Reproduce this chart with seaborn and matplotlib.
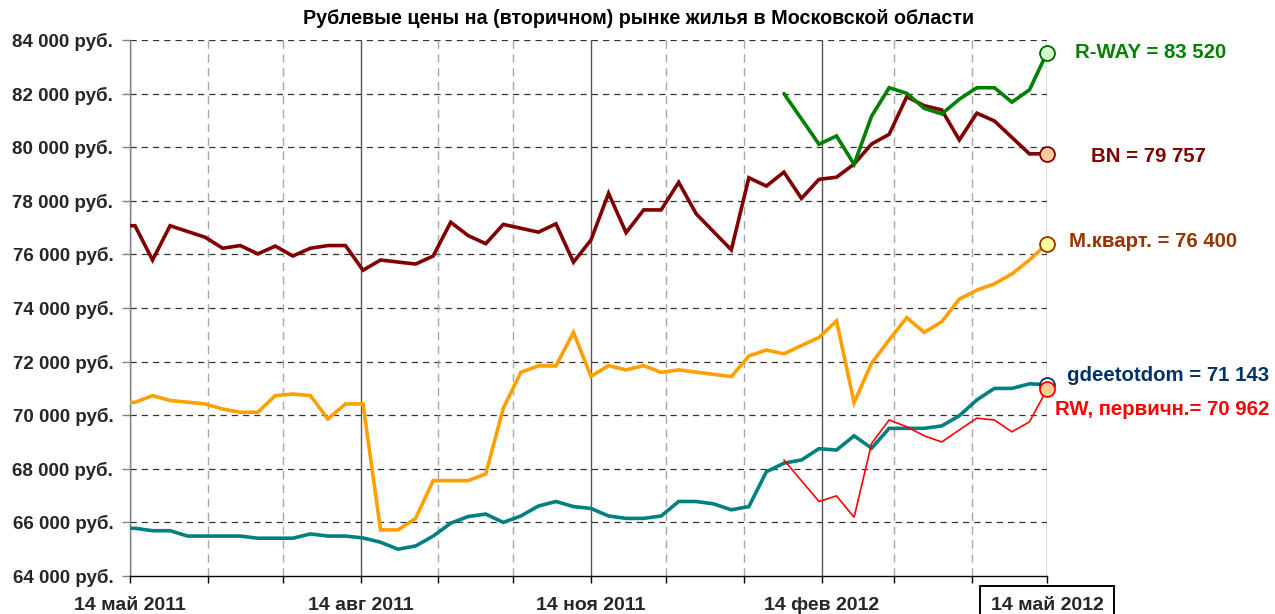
import matplotlib
matplotlib.use("Agg")
import matplotlib.pyplot as plt
import matplotlib.dates as mdates
import matplotlib.ticker as mticker
import matplotlib.transforms as mtransforms
import seaborn as sns
import pandas as pd
import numpy as np

# ---------------- data ----------------
title = "Рублевые цены на (вторичном) рынке жилья в Московской области"

# observation dates: 14 May 2011, then weekly (Mondays) 16 May 2011 ... 14 May 2012
first_date = "2011-05-14"
weekly_start = "2011-05-16"
weekly_end = "2012-05-14"

N = None
bn_values = [77070, 77070, 75790, 77070, N, 76640, 76230, 76330, 76020, 76310,
             75940, 76230, 76330, 76330, 75410, 75790, N, 75640, 75940, 77200,
             76700, 76400, 77120, N, 76830, 77140, 75710, 76540, 78280, 76810,
             77660, 77660, 78690, 77510, N, 76170, 78860, 78550, 79070, 78090,
             78800, 78880, 79370, 80120, 80480, 81880, 81550, 81390, 80270, 81270,
             80980, N, 79750, 79757]
mkvart_values = [70480, 70480, 70730, 70550, N, 70420, 70230, 70110, 70110, 70730,
                 70790, 70730, 69860, 70420, 70420, 65720, 65720, 66150, 67560, 67560,
                 67560, 67810, 70260, 71600, 71840, 71840, 73090, 71450, 71850, 71690,
                 71850, 71600, 71690, N, N, 71440, 72210, 72430, 72290, 72600,
                 72900, 73520, 70470, 71940, 72810, 73640, 73090, 73490, 74330, 74670,
                 74900, 75270, 75790, 76400]
gdeetotdom_values = [65780, 65780, 65690, 65690, 65490, 65490, 65490, 65490, 65410, 65410,
                     65410, 65570, 65490, 65490, 65420, 65260, 65000, 65120, 65490, 65970,
                     66220, 66310, 66000, 66240, 66610, 66780, 66590, 66520, 66240, 66150,
                     66150, 66240, 66780, 66780, 66690, 66470, 66590, 67890, 68210, 68330,
                     68750, 68700, 69230, 68770, 69510, 69510, 69510, 69600, 69980, 70570,
                     71000, 71000, 71170, 71143]
rw_primary_values = [N] * 38 + [68330, N, 66780, 66990, 66190, 68950, 69820, 69570, 69230, 69000,
                                69450, 69890, 69820, 69380, 69750, 70962]
rway_values = [N] * 38 + [82000, N, 80110, 80420, 79360, 81160, 82220, 82010, 81450, 81240,
                          81790, 82220, 82220, 81680, 82140, 83520]

series_names = ["BN", "М.кварт.", "gdeetotdom", "RW, первичн.", "R-WAY"]
label_texts = ["BN = 79 757", "М.кварт. = 76 400", "gdeetotdom = 71 143",
               "RW, первичн.= 70 962", "R-WAY = 83 520"]

y_ticks = [64000, 66000, 68000, 70000, 72000, 74000, 76000, 78000, 80000, 82000, 84000]
x_major_dates = ["2011-05-14", "2011-08-14", "2011-11-14", "2012-02-14", "2012-05-14"]
x_major_labels = ["14 май 2011", "14 авг 2011", "14 ноя 2011", "14 фев 2012", "14 май 2012"]

# ---------------- styles ----------------
line_colors = ["#800000", "#FF9F00", "#008080", "#FF0000", "#008000"]
line_widths = [2.6, 2.6, 2.6, 1.2, 2.6]
marker_faces = ["#FFCC99", "#FFFF99", "#FFFFFF", "#FFCC99", "#CCFFCC"]
marker_edges = ["#800000", "#993300", "#003366", "#FF0000", "#006600"]
label_colors = ["#800000", "#993300", "#003366", "#FF0000", "#008000"]
label_x_frac = [1.048, 1.024, 1.0215, 1.0085, 1.0305]
label_y_val = [79640, 76480, 71480, 70200, 83520]

sns.set_style("white")
plt.rcParams["font.family"] = ["Liberation Sans", "DejaVu Sans"]
plt.rcParams["font.weight"] = "bold"

dates = pd.DatetimeIndex([pd.Timestamp(first_date)]).append(
    pd.date_range(weekly_start, weekly_end, freq="7D"))

all_values = [bn_values, mkvart_values, gdeetotdom_values, rw_primary_values, rway_values]

fig = plt.figure(figsize=(12.75, 6.14), dpi=100)
ax = fig.add_axes([130 / 1275, 38 / 614, 917 / 1275, 536 / 614])

for name, vals, col, lw in zip(series_names, all_values, line_colors, line_widths):
    df = pd.DataFrame({"date": dates, "value": [np.nan if v is None else v for v in vals]}).dropna()
    sns.lineplot(data=df, x="date", y="value", color=col, linewidth=lw, ax=ax,
                 zorder=3, solid_joinstyle="miter")

# end markers
for i in range(5):
    vals = all_values[i]
    sns.scatterplot(x=[dates[-1]], y=[vals[-1]], s=115, color=marker_faces[i],
                    edgecolor=marker_edges[i], linewidth=1.3, ax=ax, zorder=5 + (i == 3),
                    legend=False, clip_on=False)

# end labels
trans = mtransforms.blended_transform_factory(ax.transAxes, ax.transData)
for i in range(5):
    ax.text(label_x_frac[i], label_y_val[i], label_texts[i], transform=trans,
            color=label_colors[i], fontsize=14.7, fontweight="bold",
            ha="left", va="center", clip_on=False)

# axes limits
ax.set_xlim(pd.Timestamp(x_major_dates[0]), pd.Timestamp(x_major_dates[-1]))
ax.set_ylim(y_ticks[0], y_ticks[-1])
ax.set_xlabel("")
ax.set_ylabel("")

# y axis
ax.yaxis.set_major_locator(mticker.FixedLocator(y_ticks))
ax.yaxis.set_major_formatter(mticker.FuncFormatter(
    lambda v, p: f"{v:,.0f}".replace(",", " ") + " руб."))
ax.tick_params(axis="y", which="major", length=6, width=1, color="#808080",
               pad=6, labelsize=13.5, direction="out", left=True)
for lab in ax.get_yticklabels():
    lab.set_fontweight("bold")

# x axis
month_days = pd.date_range(x_major_dates[0], x_major_dates[-1], freq=pd.DateOffset(months=1))
major_nums = [mdates.date2num(pd.Timestamp(d)) for d in x_major_dates]
month_nums = [mdates.date2num(d) for d in month_days]
ax.xaxis.set_major_locator(mticker.FixedLocator(major_nums))
ax.xaxis.set_major_formatter(mticker.FixedFormatter(x_major_labels))
ax.xaxis.set_minor_locator(mticker.FixedLocator(month_nums))
ax.tick_params(axis="x", which="both", length=5, width=1, color="#000000",
               direction="out", bottom=True, pad=10, labelsize=14)
for lab in ax.get_xticklabels():
    lab.set_fontweight("bold")
last_lab = ax.get_xticklabels()[-1]
last_lab.set_bbox(dict(boxstyle="square,pad=0.55", fc="white", ec="black", lw=1.4))

# grids
ax.grid(False)
for v in y_ticks[1:]:
    ax.axhline(v, color="#333333", lw=0.9, ls=(0, (5, 4)), zorder=1)
for d in month_nums:
    if any(abs(d - m) < 1 for m in major_nums):
        ax.axvline(d, color="#555555", lw=1.0, ls="-", zorder=1)
    else:
        ax.axvline(d, color="#A8A8A8", lw=1.0, ls=(0, (6, 4)), zorder=1)

for s in ["top", "right"]:
    ax.spines[s].set_visible(False)
ax.spines["left"].set_color("#808080")
ax.spines["left"].set_linewidth(1.0)
ax.spines["bottom"].set_color("#000000")
ax.spines["bottom"].set_linewidth(1.0)

fig.text(0.501, 1 - 18 / 614, title, ha="center", va="center",
         fontsize=14.2, fontweight="bold", color="#000000")

fig.savefig("out.png", dpi=100)
